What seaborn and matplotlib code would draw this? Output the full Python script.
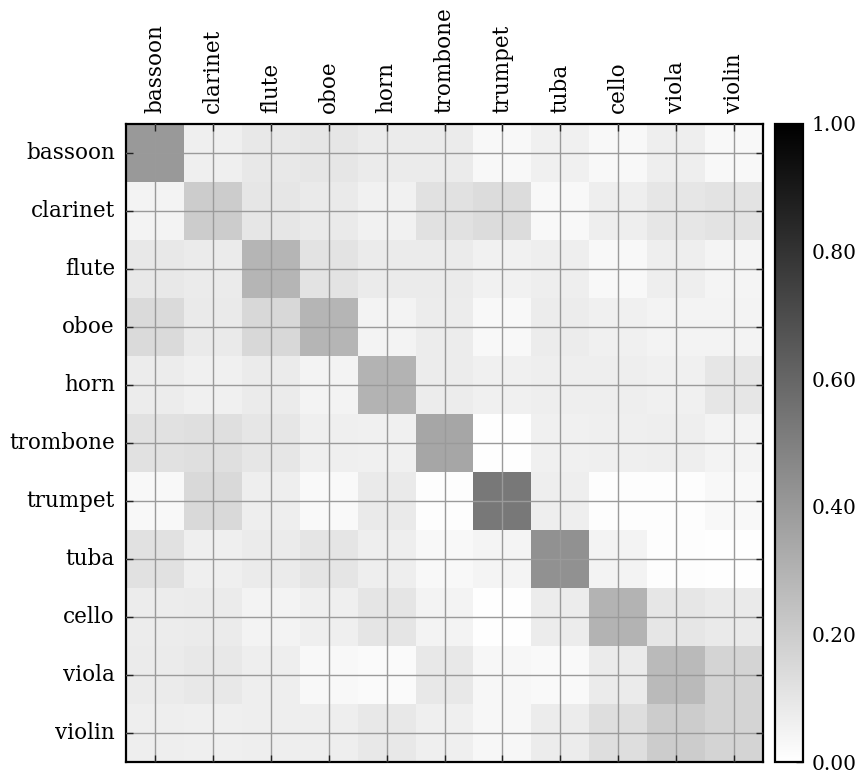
import numpy as np
import pandas as pd
import matplotlib
matplotlib.use("Agg")
import matplotlib.pyplot as plt
import seaborn as sns

instruments = ["bassoon", "clarinet", "flute", "oboe", "horn", "trombone",
               "trumpet", "tuba", "cello", "viola", "violin"]

# Row = true instrument, column = predicted instrument
bassoon  = [0.40, 0.065, 0.09, 0.10, 0.08, 0.08, 0.03, 0.06, 0.03, 0.07, 0.03]
clarinet = [0.05, 0.20, 0.10, 0.085, 0.055, 0.12, 0.14, 0.03, 0.07, 0.10, 0.11]
flute    = [0.09, 0.08, 0.29, 0.11, 0.08, 0.08, 0.055, 0.07, 0.03, 0.07, 0.045]
oboe     = [0.145, 0.085, 0.155, 0.29, 0.05, 0.075, 0.03, 0.075, 0.06, 0.05, 0.05]
horn     = [0.075, 0.06, 0.08, 0.05, 0.30, 0.075, 0.06, 0.07, 0.07, 0.06, 0.10]
trombone = [0.12, 0.125, 0.10, 0.065, 0.06, 0.35, 0.005, 0.06, 0.065, 0.07, 0.05]
trumpet  = [0.03, 0.15, 0.07, 0.025, 0.085, 0.01, 0.53, 0.07, 0.01, 0.01, 0.03]
tuba     = [0.12, 0.065, 0.08, 0.105, 0.07, 0.03, 0.045, 0.43, 0.05, 0.01, 0.005]
cello    = [0.075, 0.08, 0.05, 0.065, 0.105, 0.05, 0.005, 0.075, 0.30, 0.10, 0.085]
viola    = [0.08, 0.09, 0.07, 0.03, 0.02, 0.09, 0.035, 0.025, 0.08, 0.27, 0.17]
violin   = [0.07, 0.065, 0.07, 0.07, 0.09, 0.065, 0.035, 0.075, 0.13, 0.20, 0.17]

cbar_ticks = [0.0, 0.2, 0.4, 0.6, 0.8, 1.0]

matrix = pd.DataFrame(
    [bassoon, clarinet, flute, oboe, horn, trombone,
     trumpet, tuba, cello, viola, violin],
    index=instruments, columns=instruments,
)

sns.set_style("white")
plt.rcParams["font.family"] = ["DejaVu Serif"]
plt.rcParams["font.size"] = 15
plt.rcParams["text.color"] = "black"
plt.rcParams["xtick.color"] = "black"
plt.rcParams["ytick.color"] = "black"

fig = plt.figure(figsize=(8.56, 7.74), dpi=100)
ax = fig.add_axes([0.1472, 0.0155, 0.7442, 0.8245])
cax = fig.add_axes([0.9054, 0.0155, 0.0327, 0.8245])

sns.heatmap(matrix, ax=ax, cbar_ax=cax, cmap="gray_r", vmin=0, vmax=1,
            square=False, cbar_kws={"ticks": cbar_ticks})

# grid lines at the cell centres, drawn over the image
ax.set_axisbelow(False)
ax.grid(True, color="#9a9a9a", linewidth=1.0)
for sp in ax.spines.values():
    sp.set_visible(True)
    sp.set_color("black")
    sp.set_linewidth(1.6)

ax.xaxis.tick_top()
ax.tick_params(axis="both", which="both", direction="in", length=5, width=1,
               color="#222222", labelcolor="black",
               top=True, bottom=True, left=True, right=True,
               labeltop=True, labelbottom=False, labelleft=True, labelright=False,
               labelsize=15.5, pad=8)
ax.set_xticklabels(instruments, rotation=90)
ax.set_yticklabels(instruments, rotation=0)
ax.set_xlabel("")
ax.set_ylabel("")

cbar = ax.collections[0].colorbar
cbar.formatter = matplotlib.ticker.FormatStrFormatter("%.2f")
cbar.update_ticks()
cax.tick_params(direction="in", length=5, width=1, color="#222222",
                labelcolor="black", labelsize=14.5, pad=6)
cbar.outline.set_visible(True)
cbar.outline.set_edgecolor("black")
cbar.outline.set_linewidth(1.6)

fig.savefig("out.png", dpi=100)
